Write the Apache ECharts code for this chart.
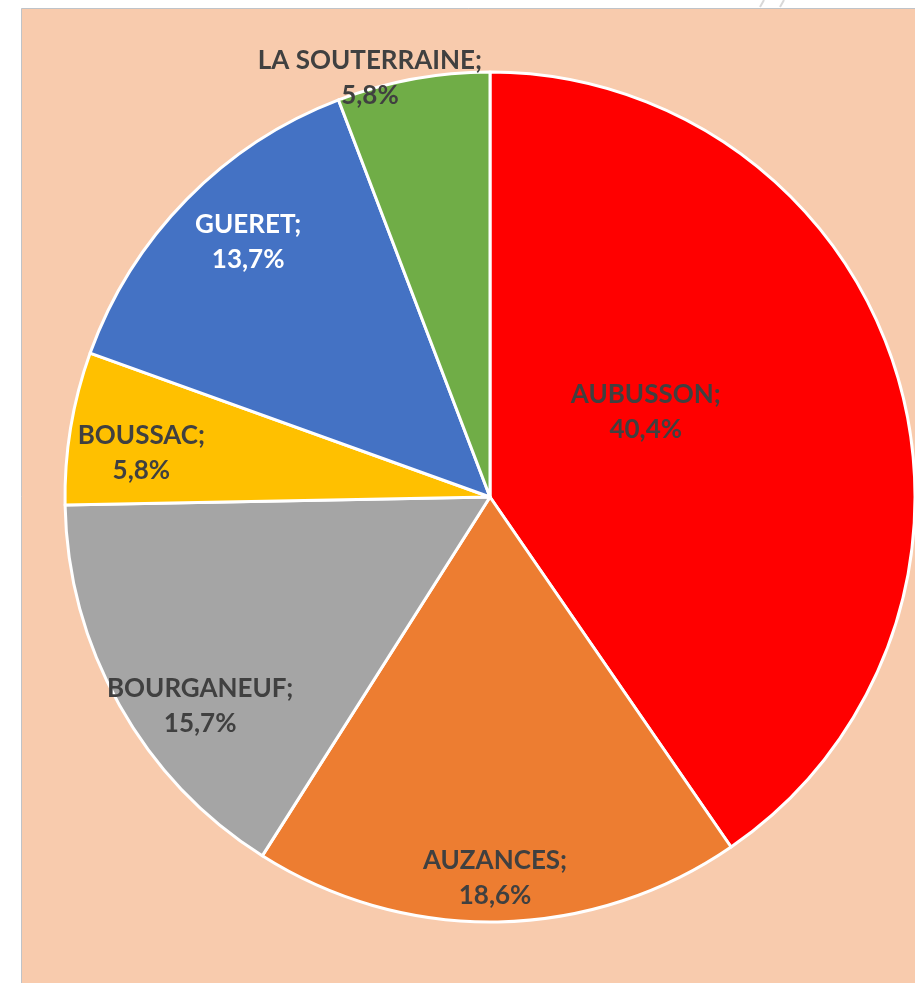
<!DOCTYPE html>
<html>
<head>
<meta charset="utf-8">
<script src="https://cdn.jsdelivr.net/npm/echarts@6/dist/echarts.min.js"></script>
<style>
  html, body { margin: 0; padding: 0; background: #fff; }
  #chart { width: 915px; height: 983px; }
</style>
</head>
<body>
<div id="chart"></div>
<script>
// parts per town, clockwise from 12 o'clock
const towns = ["AUBUSSON", "AUZANCES", "BOURGANEUF", "BOUSSAC", "GUERET", "LA SOUTERRAINE"];
const shares = [40.4, 18.6, 15.7, 5.8, 13.7, 5.8];

const colors = ["#FF0000", "#ED7D31", "#A5A5A5", "#FFC000", "#4472C4", "#70AD47"];
const labelColors = ["#404040", "#404040", "#404040", "#404040", "#FFFFFF", "#404040"];
// nudge labels from the echarts default spot to where excel put them
const labelOffsets = [[-50, -21], [1, 166], [-102, 104], [-136, -9], [-88, -104], [-81, -207]];

const chart = echarts.init(document.getElementById("chart"));

const data = towns.map((name, i) => ({
  name: name,
  value: shares[i],
  itemStyle: { color: colors[i] },
  label: { color: labelColors[i], offset: labelOffsets[i] },
}));

chart.setOption({
  animation: false,
  graphic: [
    {
      type: "rect",
      z: -10,
      silent: true,
      shape: { x: 21.5, y: 8.5, width: 920, height: 990 },
      style: { fill: "#F8CBAD", stroke: "#BFC3C8", lineWidth: 1 },
    },
    {
      type: "line",
      silent: true,
      shape: { x1: 760, y1: 7, x2: 764, y2: 0 },
      style: { stroke: "#D8D8D8", lineWidth: 2 },
    },
    {
      type: "line",
      silent: true,
      shape: { x1: 780, y1: 7, x2: 784, y2: 0 },
      style: { stroke: "#D8D8D8", lineWidth: 2 },
    },
  ],
  series: [
    {
      type: "pie",
      center: [490, 497],
      radius: 425,
      startAngle: 90,
      clockwise: true,
      itemStyle: { borderColor: "#FFFFFF", borderWidth: 3 },
      label: {
        show: true,
        position: "inside",
        fontFamily: "Lato",
        fontWeight: "bold",
        fontSize: 26,
        lineHeight: 35,
        align: "center",
        formatter: (p) => p.name + ";\n" + p.value.toFixed(1).replace(".", ",") + "%",
      },
      labelLine: { show: false },
      emphasis: { disabled: true },
      data: data,
    },
  ],
});
</script>
</body>
</html>
